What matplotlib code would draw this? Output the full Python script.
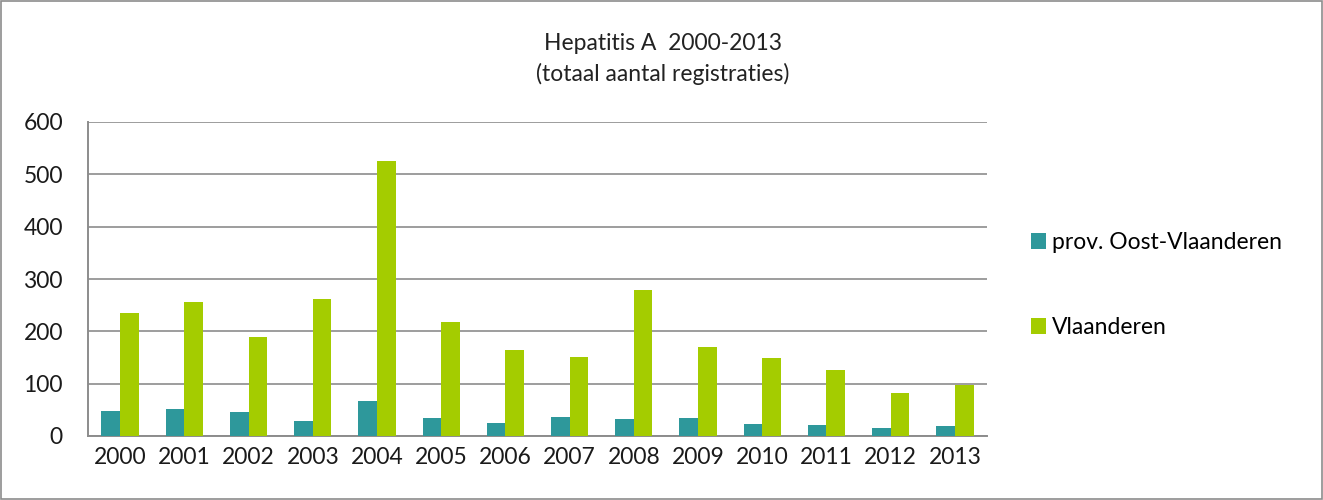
import matplotlib.pyplot as plt
import numpy as np

years = ['2000', '2001', '2002', '2003', '2004', '2005', '2006',
         '2007', '2008', '2009', '2010', '2011', '2012', '2013']
oost_vlaanderen = [48, 52, 45, 29, 67, 34, 25, 37, 32, 35, 23, 21, 15, 20]
vlaanderen = [235, 257, 189, 262, 526, 217, 165, 151, 279, 170, 150, 126, 83, 97]

plt.rcParams['font.family'] = ['Lato', 'DejaVu Sans']

fig = plt.figure(figsize=(13.23, 5), dpi=100)
ax = fig.add_axes([88 / 1323, 1 - 436 / 500, (987 - 88) / 1323, (436 - 122) / 500])

x = np.arange(len(years))
w = 0.29
ax.bar(x - w / 2, oost_vlaanderen, w, color='#2E989B', label='prov. Oost-Vlaanderen', zorder=3)
ax.bar(x + w / 2, vlaanderen, w, color='#A4CC00', label='Vlaanderen', zorder=3)

ax.set_xlim(-0.5, len(years) - 0.5)
ax.set_ylim(0, 600)
ax.set_yticks(range(0, 601, 100))
ax.set_xticks(x)
ax.set_xticklabels(years)
ax.tick_params(length=0, labelsize=16.5, colors='#1a1a1a', pad=8)
ax.tick_params(axis='y', pad=18)
ax.grid(axis='y', color='#8c8c8c', lw=1.2, zorder=0)
for s in ['top', 'right']:
    ax.spines[s].set_visible(False)
for s in ['left', 'bottom']:
    ax.spines[s].set_color('#8c8c8c')
    ax.spines[s].set_linewidth(1.4)

fig.text(663 / 1323, 1 - 44 / 500, 'Hepatitis A  2000-2013', ha='center', va='center', fontsize=16.5, color='#222222')
fig.text(663 / 1323, 1 - 74 / 500, '(totaal aantal registraties)', ha='center', va='center', fontsize=16.5, color='#222222')

handles, labels = ax.get_legend_handles_labels()
fig.legend(handles, labels, loc='center left', bbox_to_anchor=(1010 / 1323, 1 - 285 / 500),
           frameon=False, fontsize=16.5, handlelength=0.65, handleheight=0.65,
           handletextpad=0.3, labelspacing=2.8)

fig.add_artist(plt.Rectangle((0.001, 0.002), 0.998, 0.996, transform=fig.transFigure,
                             fill=False, edgecolor='#8c8c8c', lw=1.2))

fig.savefig('out.png', dpi=100)
